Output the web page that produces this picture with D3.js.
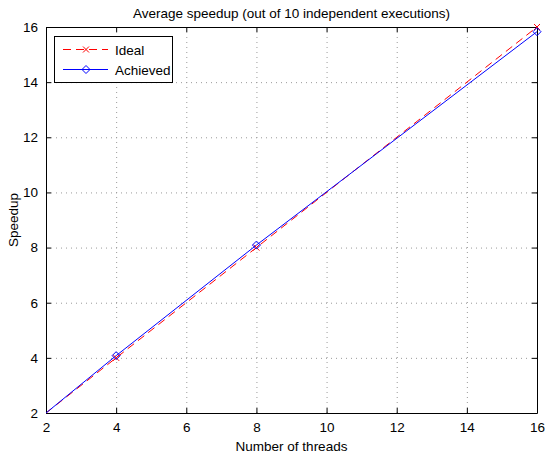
<!DOCTYPE html>
<html lang="en">
<head>
<meta charset="UTF-8">
<title>Average speedup</title>
<script src="https://d3js.org/d3.v7.min.js"></script>
<style>
  body { margin: 0; background: #fff; }
  text { font-family: "Liberation Sans", Arial, sans-serif; fill: #000; }
</style>
</head>
<body>
<div id="chart"></div>
<script>
// data
const threads  = [2, 4, 8, 16];
const ideal    = [2, 4, 8, 16];
const achieved = [2, 4.08, 8.09, 15.83];
const xTicks   = [2, 4, 6, 8, 10, 12, 14, 16];
const yTicks   = [2, 4, 6, 8, 10, 12, 14, 16];
const seriesNames = ["Ideal", "Achieved"];

const W = 546, H = 457;
const m = {left: 46, right: 9, top: 27, bottom: 44};
const FS = 13.5;

const svg = d3.select("#chart").append("svg")
  .attr("width", W).attr("height", H);

const x = d3.scaleLinear().domain([2, 16]).range([m.left, W - m.right]);
const y = d3.scaleLinear().domain([2, 16]).range([H - m.bottom, m.top]);

// grid (dotted)
const grid = svg.append("g").attr("stroke", "#9a9a9a").attr("stroke-dasharray", "1,4");
grid.selectAll(".gx").data(xTicks.slice(1, -1)).enter().append("line")
  .attr("x1", d => x(d) + 0.5).attr("x2", d => x(d) + 0.5)
  .attr("y1", y(16)).attr("y2", y(2));
grid.selectAll(".gy").data(yTicks.slice(1, -1)).enter().append("line")
  .attr("y1", d => y(d) + 0.5).attr("y2", d => y(d) + 0.5)
  .attr("x1", x(2)).attr("x2", x(16));

// axes, ticks pointing inward like matlab
const fmt = d3.format("d");
svg.append("g").attr("transform", `translate(0,${y(2)})`)
  .call(d3.axisBottom(x).tickValues(xTicks).tickSizeInner(-5).tickSizeOuter(0).tickPadding(9).tickFormat(fmt));
svg.append("g").attr("transform", `translate(0,${y(16)})`)
  .call(d3.axisTop(x).tickValues(xTicks).tickSizeInner(-5).tickSizeOuter(0).tickFormat(""));
svg.append("g").attr("transform", `translate(${x(2)},0)`)
  .call(d3.axisLeft(y).tickValues(yTicks).tickSizeInner(-5).tickSizeOuter(0).tickPadding(8).tickFormat(fmt));
svg.append("g").attr("transform", `translate(${x(16)},0)`)
  .call(d3.axisRight(y).tickValues(yTicks).tickSizeInner(-5).tickSizeOuter(0).tickFormat(""));
svg.selectAll(".domain").attr("stroke", "#000");
svg.selectAll(".tick line").attr("stroke", "#000");
svg.selectAll(".tick text").attr("font-size", FS).attr("fill", "#000")
  .attr("font-family", "Liberation Sans, Arial, sans-serif");

// lines
const line = d3.line().x((d, i) => x(threads[i])).y(d => y(d));
svg.append("path").datum(ideal).attr("d", line)
  .attr("fill", "none").attr("stroke", "#ff0000").attr("stroke-dasharray", "8,5");
svg.append("path").datum(achieved).attr("d", line)
  .attr("fill", "none").attr("stroke", "#0000ff");

// markers (the one at the origin corner is hidden in the original)
const pts = threads.map((t, i) => i).filter(i => i > 0);
const xMark = (g, cx, cy) => g.append("path")
  .attr("d", `M${cx-3},${cy-3}L${cx+3},${cy+3}M${cx-3},${cy+3}L${cx+3},${cy-3}`)
  .attr("stroke", "#ff0000").attr("fill", "none");
const diamond = (g, cx, cy) => g.append("path")
  .attr("d", `M${cx},${cy-4}L${cx+4},${cy}L${cx},${cy+4}L${cx-4},${cy}Z`)
  .attr("stroke", "#0000ff").attr("fill", "none");
pts.forEach(i => xMark(svg, x(threads[i]), y(ideal[i])));
pts.forEach(i => diamond(svg, x(threads[i]), y(achieved[i])));

// legend
const lg = svg.append("g");
lg.append("rect").attr("x", 54.5).attr("y", 36.5).attr("width", 118).attr("height", 46)
  .attr("fill", "#fff").attr("stroke", "#000");
seriesNames.forEach((name, k) => {
  const ly = 49.5 + k * 20;
  lg.append("line").attr("x1", 63).attr("x2", 108).attr("y1", ly).attr("y2", ly)
    .attr("stroke", k === 0 ? "#ff0000" : "#0000ff")
    .attr("stroke-dasharray", k === 0 ? "8,5" : null);
  if (k === 0) xMark(lg, 86, ly); else diamond(lg, 86, ly);
  lg.append("text").attr("x", 115).attr("y", ly + 5).attr("font-size", FS).text(name);
});

// titles
svg.append("text").attr("x", (x(2) + x(16)) / 2).attr("y", 18).attr("text-anchor", "middle")
  .attr("font-size", FS).text("Average speedup (out of 10 independent executions)");
svg.append("text").attr("x", (x(2) + x(16)) / 2).attr("y", 451).attr("text-anchor", "middle")
  .attr("font-size", FS).text("Number of threads");
svg.append("text").attr("transform", `translate(18,${(y(2) + y(16)) / 2}) rotate(-90)`)
  .attr("text-anchor", "middle").attr("font-size", FS).text("Speedup");
</script>
</body>
</html>
